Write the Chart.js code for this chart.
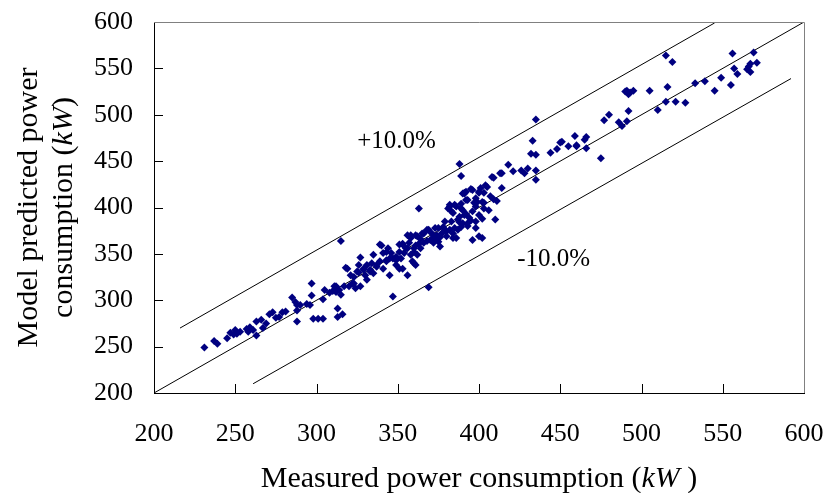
<!DOCTYPE html>
<html><head><meta charset="utf-8">
<script src="https://cdn.jsdelivr.net/npm/chart.js@4.4.1/dist/chart.umd.min.js"></script>
<style>html,body{margin:0;padding:0;background:#fff;}#wrap{width:827px;height:493px;position:relative;}</style>
</head><body><div id="wrap"><canvas id="c" width="827" height="493"></canvas></div>
<script>
// Measured power consumption (kW) for each sample
const measured = [
231,237,239,245,247,249,251,253,250,257,259,258,261,263,263,266,267,269,271,273,275,277,279,281,285,287,288,290,288,288,294,296,297,297,298,301,304,304,305,308,310,312,313,316,313,315,317,319,320,322,323,324,326,327,326,329,331,333,334,335,337,339,341,343,346,344,349,351,354,360,315,347,369,340,327,318,
321,325,329,331,333,337,341,343,347,349,351,352,358,360,363,323,312,314,311,330,335,359,361,353,356,345,339,343,345,349,351,356,358,353,356,362,
363,382,386,390,392,384,388,390,379,375,368,366,362,358,353,376,386,384,360,364,396,391,400,401,392,398,381,385,383,389,391,396,398,400,403,393,373,369,365,361,383,387,389,385,379,398,402,398,402,400,396,
370,372,374,377,380,382,371,373,376,378,366,368,364,361,357,355,372,375,380,384,387,390,394,395,393,388,
388,389,405,403,400,395,391,393,397,389,410,382,392,402,407,409,406,411,418,421,414,408,414,426,428,430,435,435,404,399,403,413,409,
435,433,432,435,444,448,450,455,459,460,466,465,466,460,451,475,477,480,486,488,491,492,491,493,495,492,490,505,510,515,516,521,527,533,539,545,549,555,557,559,565,566,567,567,571,569,556,515,519
];
// Model predicted power consumption (kW) for each sample
const predicted = [
249,256,253,259,265,263,264,266,268,269,271,266,268,262,277,279,270,275,285,287,281,282,287,288,303,298,295,295,289,277,296,295,305,318,280,280,280,301,311,308,310,315,291,285,282,306,315,334,315,318,325,313,338,315,330,333,322,331,340,349,336,360,351,343,351,356,343,360,351,340,364,304,314,359,346,335,
327,331,334,338,333,338,334,342,345,338,334,345,349,356,361,318,309,311,315,327,329,342,338,334,327,327,342,352,345,347,352,370,367,360,356,349,
399,403,401,415,417,394,390,397,385,378,376,372,369,370,361,358,367,367,352,356,419,415,417,421,408,410,399,403,396,399,392,396,401,392,399,383,378,376,372,370,385,387,379,378,376,378,388,385,367,369,365,
365,368,370,372,374,376,372,366,368,379,362,364,366,359,362,356,362,363,369,372,376,383,389,386,380,384,
447,434,422,416,416,420,416,408,405,404,387,401,393,406,412,409,397,407,446,439,437,433,421,440,437,442,440,430,424,406,405,437,432,
495,472,458,457,459,463,470,466,477,467,476,473,464,466,471,453,494,500,492,488,493,504,526,524,526,522,525,526,505,514,530,514,513,534,536,526,540,532,550,544,549,552,546,555,556,567,566,564,557
];
// Reference lines (start and end points)
const perfectX = [200, 600];
const perfectY = [200, 600];
const plusX = [216, 545];
const plusY = [270, 599];
const minusX = [261, 592];
const minusY = [210, 539];
// Axis ticks
const tickValues = [200, 250, 300, 350, 400, 450, 500, 550, 600];
const labelPlus = '+10.0%';
const labelMinus = '-10.0%';
const plusPos = [325, 464];
const minusPos = [423.5, 337];

const pts = measured.map((m, i) => ({x: m, y: predicted[i]}));
const mk = (xs, ys) => xs.map((v, i) => ({x: v, y: ys[i]}));
const SERIF = '"Liberation Serif", "Times New Roman", serif';

function drawMixed(ctx, parts, x, y, align) {
  let total = 0;
  parts.forEach(p => { ctx.font = p.f; total += ctx.measureText(p.t).width; });
  let cx = align === 'center' ? x - total / 2 : x;
  ctx.textAlign = 'left';
  parts.forEach(p => { ctx.font = p.f; ctx.fillText(p.t, cx, y); cx += ctx.measureText(p.t).width; });
}

const decor = {
  id: 'decor',
  afterDraw(chart) {
    const ctx = chart.ctx, a = chart.chartArea;
    const xs = chart.scales.x, ys = chart.scales.y;
    ctx.save();
    ctx.strokeStyle = '#808080'; ctx.lineWidth = 1;
    ctx.beginPath();
    ctx.moveTo(a.left, a.top + 0.5); ctx.lineTo(a.right + 0.5, a.top + 0.5); ctx.lineTo(a.right + 0.5, a.bottom);
    ctx.stroke();
    ctx.strokeStyle = '#000';
    ctx.beginPath();
    tickValues.forEach(v => {
      if (v > 200 && v < 600) {
        const px = Math.round(xs.getPixelForValue(v)) + 0.5;
        ctx.moveTo(px, a.bottom); ctx.lineTo(px, a.bottom - 9);
        const py = Math.round(ys.getPixelForValue(v)) + 0.5;
        ctx.moveTo(a.left, py); ctx.lineTo(a.left + 9, py);
      }
    });
    ctx.stroke();
    ctx.fillStyle = '#000';
    ctx.textBaseline = 'alphabetic';
    ctx.font = '25px ' + SERIF;
    ctx.textAlign = 'left';
    ctx.fillText(labelPlus, xs.getPixelForValue(plusPos[0]), ys.getPixelForValue(plusPos[1]));
    ctx.fillText(labelMinus, xs.getPixelForValue(minusPos[0]), ys.getPixelForValue(minusPos[1]));
    const nf = '30px ' + SERIF, itf = 'italic 30px ' + SERIF;
    drawMixed(ctx, [{t: 'Measured power consumption (', f: nf}, {t: 'kW', f: itf}, {t: ' )', f: nf}], 479, 487, 'center');
    ctx.save();
    ctx.translate(0, (a.top + a.bottom) / 2);
    ctx.rotate(-Math.PI / 2);
    drawMixed(ctx, [{t: 'Model predicted power', f: nf}], 0, 37, 'center');
    drawMixed(ctx, [{t: 'consumption (', f: nf}, {t: 'kW', f: itf}, {t: ')', f: nf}], 0, 72, 'center');
    ctx.restore();
    ctx.restore();
  }
};

new Chart(document.getElementById('c'), {
  type: 'scatter',
  data: {
    datasets: [
      {data: pts, pointStyle: 'rectRot', pointRadius: 4, backgroundColor: '#000080', borderColor: '#000080', borderWidth: 0, order: 0},
      {type: 'line', data: mk(perfectX, perfectY), borderColor: '#000', borderWidth: 1, pointRadius: 0, fill: false, order: 1},
      {type: 'line', data: mk(plusX, plusY), borderColor: '#000', borderWidth: 1, pointRadius: 0, fill: false, order: 1},
      {type: 'line', data: mk(minusX, minusY), borderColor: '#000', borderWidth: 1, pointRadius: 0, fill: false, order: 1}
    ]
  },
  options: {
    responsive: false, animation: false, devicePixelRatio: 1,
    layout: {padding: {top: 22, right: 23, left: 0, bottom: 0}},
    plugins: {legend: {display: false}, tooltip: {enabled: false}},
    scales: {
      x: {
        type: 'linear', min: 200, max: 600,
        afterFit: s => { s.height = 100; s.paddingLeft = 0; s.paddingRight = 0; },
        afterBuildTicks: s => { s.ticks = tickValues.map(v => ({value: v})); },
        grid: {display: false, drawTicks: false},
        border: {display: true, color: '#000', width: 1},
        ticks: {color: '#000', font: {family: SERIF, size: 26}, padding: 26, maxRotation: 0, autoSkip: false}
      },
      y: {
        type: 'linear', min: 200, max: 600,
        afterFit: s => { s.width = 154; s.paddingTop = 0; s.paddingBottom = 0; },
        afterBuildTicks: s => { s.ticks = tickValues.map(v => ({value: v})); },
        grid: {display: false, drawTicks: false},
        border: {display: true, color: '#000', width: 1},
        ticks: {color: '#000', font: {family: SERIF, size: 26}, padding: 21, autoSkip: false}
      }
    }
  },
  plugins: [decor]
});
</script></body></html>
